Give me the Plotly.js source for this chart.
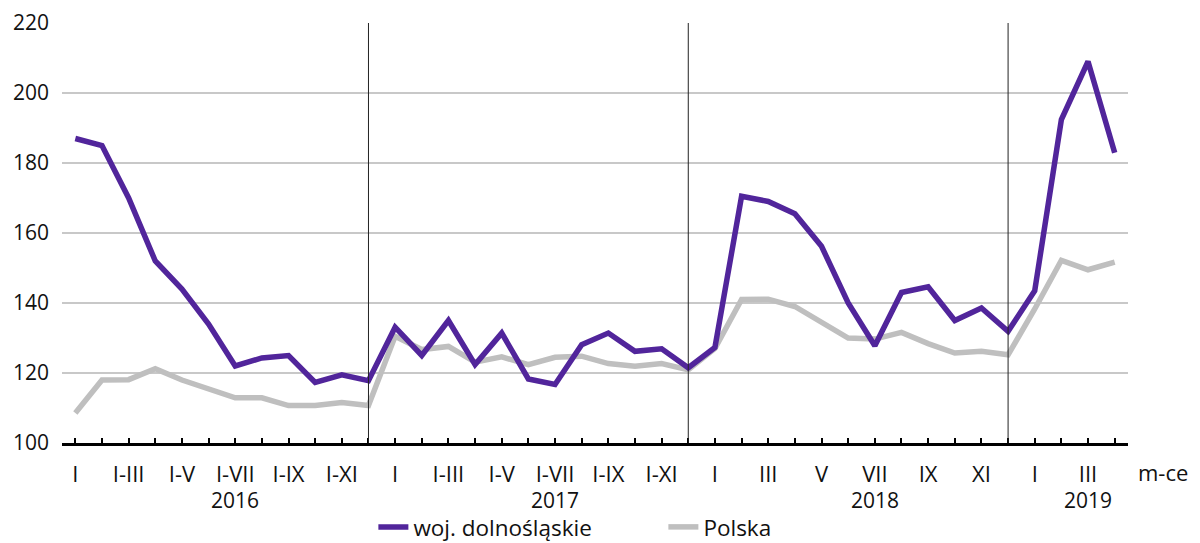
<!DOCTYPE html>
<html>
<head>
<meta charset="utf-8">
<script src="https://cdn.plot.ly/plotly-3.0.1.min.js"></script>
<style>html,body{margin:0;padding:0;background:#fff;}#chart{width:1200px;height:543px;}</style>
</head>
<body>
<div id="chart"></div>
<script>
// Months Jan 2016 – Apr 2019 (40 points)
const monthIndex = Array.from({length: 40}, (_, i) => i);
const dolnoslaskie = [
  187, 185, 170, 152, 144, 134, 122, 124.3, 125, 117.3, 119.5, 117.8,
  133.1, 125, 135, 122.4, 131.4, 118.3, 116.7, 128.1, 131.4, 126.2, 126.9, 121.5,
  127.3, 170.5, 169, 165.5, 156.2, 140, 127.8, 143, 144.6, 135, 138.6, 131.9,
  143.5, 192.4, 209, 182.9
];
const polska = [
  108.6, 118, 118.1, 121.2, 118, 115.5, 112.9, 112.9, 110.7, 110.7, 111.6, 110.7,
  130.5, 126.7, 127.6, 123.1, 124.6, 122.4, 124.5, 124.8, 122.7, 121.9, 122.7, 120.9,
  127, 141, 141.1, 139, 134.5, 130, 129.7, 131.6, 128.4, 125.7, 126.2, 125.2,
  138.3, 152.2, 149.5, 151.7
];
const tickLabels = [
  "I","","I-III","","I-V","","I-VII","","I-IX","","I-XI","",
  "I","","I-III","","I-V","","I-VII","","I-IX","","I-XI","",
  "I","","III","","V","","VII","","IX","","XI","",
  "I","","III",""
];
const years = ["2016","2017","2018","2019"];
const yearPos = [6, 18, 30, 38];
const separators = [11, 23, 35];
const seriesNames = ["woj. dolnośląskie", "Polska"];

const FONT = "'Open Sans', Roboto, sans-serif";
const FS = 21;

const traces = [
  {x: monthIndex, y: polska, name: seriesNames[1], type: "scatter", mode: "lines",
   line: {color: "#bfbfbf", width: 5.5}, showlegend: true},
  {x: monthIndex, y: dolnoslaskie, name: seriesNames[0], type: "scatter", mode: "lines",
   line: {color: "#51259b", width: 5.5}, showlegend: true}
];

const shapes = separators.map(s => ({
  type: "line", xref: "x", yref: "y", x0: s, x1: s, y0: 100, y1: 220,
  line: {color: "#222", width: 1}
}));

const annotations = years.map((t, i) => ({
  text: t, xref: "x", yref: "paper", x: yearPos[i], y: -0.136, yanchor: "middle",
  showarrow: false, font: {family: FONT, size: FS, color: "#111"}
}));
annotations.push({text: "m-ce", xref: "paper", yref: "paper", x: 1.0, xanchor: "left", xshift: 8,
  y: -0.068, yanchor: "middle", showarrow: false, font: {family: FONT, size: 22, color: "#111"}});

const layout = {
  width: 1200, height: 543,
  margin: {l: 62, r: 72, t: 23, b: 100},
  paper_bgcolor: "#fff", plot_bgcolor: "#fff",
  font: {family: FONT, size: FS, color: "#111"},
  xaxis: {
    range: [-0.5, 39.5], tickmode: "array", tickvals: monthIndex, ticktext: tickLabels,
    ticks: "inside", ticklen: 5, tickwidth: 2, tickcolor: "#000",
    showline: true, linecolor: "#000", linewidth: 2.5, showgrid: false, zeroline: false,
    ticklabelstandoff: 10,
    tickfont: {family: FONT, size: 22, color: "#111"}, fixedrange: true, automargin: false
  },
  yaxis: {
    range: [100, 220], tickvals: [100,120,140,160,180,200,220],
    showgrid: true, gridcolor: "#c8c8c8", gridwidth: 1.2, zeroline: false,
    showline: false, ticks: "", ticklabelstandoff: 12,
    tickfont: {family: FONT, size: FS, color: "#111"}, fixedrange: true, automargin: false
  },
  shapes: shapes,
  annotations: annotations,
  legend: {orientation: "h", xref: "paper", yref: "container", x: 0.2921, xanchor: "left",
    y: 0.029, yanchor: "middle", entrywidth: 245, entrywidthmode: "pixels",
    traceorder: "reversed", font: {family: FONT, size: 22.5, color: "#111"}},
  showlegend: true
};

Plotly.newPlot("chart", traces, layout, {displayModeBar: false, staticPlot: true});
</script>
</body>
</html>
